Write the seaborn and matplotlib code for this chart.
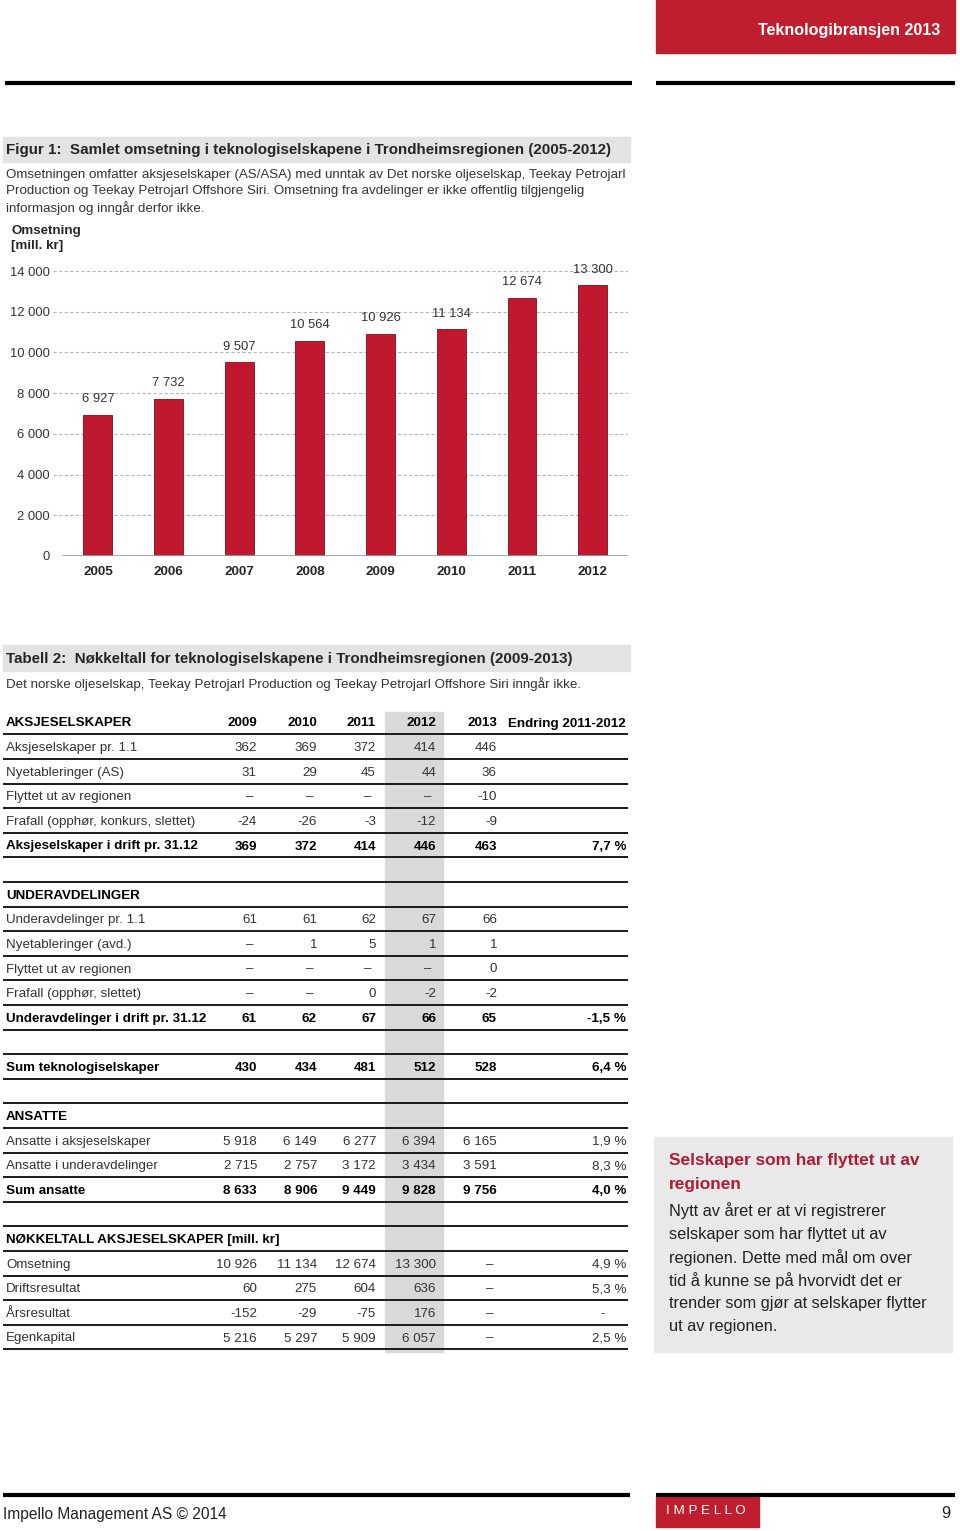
import numpy as np
import matplotlib
matplotlib.use("Agg")
import matplotlib.pyplot as plt
from matplotlib.patches import Rectangle
import seaborn as sns

# chart data (mill. kr)
years = ["2005", "2006", "2007", "2008", "2009", "2010", "2011", "2012"]
revenue = [6927, 7732, 9507, 10564, 10926, 11134, 12674, 13300]
yticks = [0, 2000, 4000, 6000, 8000, 10000, 12000, 14000]

# table data
tab_years = ["2009", "2010", "2011", "2012", "2013"]
aksje_labels = ["Aksjeselskaper pr. 1.1", "Nyetableringer (AS)",
                "Flyttet ut av regionen", "Frafall (opphør, konkurs, slettet)"]
aksje_vals = [[362, 369, 372, 414, 446],
              [31, 29, 45, 44, 36],
              [None, None, None, None, -10],
              [-24, -26, -3, -12, -9]]
aksje_total = [369, 372, 414, 446, 463]
aksje_change = "7,7 %"

avd_labels = ["Underavdelinger pr. 1.1", "Nyetableringer (avd.)",
              "Flyttet ut av regionen", "Frafall (opphør, slettet)"]
avd_vals = [[61, 61, 62, 67, 66],
            [None, 1, 5, 1, 1],
            [None, None, None, None, 0],
            [None, None, 0, -2, -2]]
avd_total = [61, 62, 67, 66, 65]
avd_change = "-1,5 %"

sum_selskaper = [430, 434, 481, 512, 528]
sum_change = "6,4 %"

ansatte_labels = ["Ansatte i aksjeselskaper", "Ansatte i underavdelinger"]
ansatte_vals = [[5918, 6149, 6277, 6394, 6165],
                [2715, 2757, 3172, 3434, 3591]]
ansatte_change = ["1,9 %", "8,3 %"]
ansatte_total = [8633, 8906, 9449, 9828, 9756]
ansatte_total_change = "4,0 %"

nokkel_labels = ["Omsetning", "Driftsresultat", "Årsresultat", "Egenkapital"]
nokkel_vals = [[10926, 11134, 12674, 13300, None],
               [60, 275, 604, 636, None],
               [-152, -29, -75, 176, None],
               [5216, 5297, 5909, 6057, None]]
nokkel_change = ["4,9 %", "5,3 %", "-", "2,5 %"]

RED = "#be1e2d"
BAR = "#c0192f"
FONT = ["Liberation Sans", "DejaVu Sans"]
FS = 9.6

sns.set_style("white")
plt.rcParams["font.family"] = FONT


def fmt(v):
    if v is None:
        return "–"
    return f"{v:,}".replace(",", " ")


fig = plt.figure(figsize=(9.6, 15.31), dpi=100)

# page layer in pixel coordinates
page = fig.add_axes([0, 0, 1, 1])
page.set_xlim(0, 960)
page.set_ylim(1531, 0)
page.axis("off")

# header
page.add_patch(Rectangle((656, 0), 299, 53, color=RED))
page.text(940, 31, "Teknologibransjen 2013", color="white", fontsize=11.6,
          fontweight="bold", ha="right", va="center")
page.plot([5, 632], [83, 83], color="black", lw=3, solid_capstyle="butt")
page.plot([656, 955], [83, 83], color="black", lw=3, solid_capstyle="butt")

# figure title
page.add_patch(Rectangle((3, 137), 627, 25, color="#e3e3e3"))
page.text(6, 150, "Figur 1:  Samlet omsetning i teknologiselskapene i Trondheimsregionen (2005-2012)",
          fontsize=10.9, fontweight="bold", va="center")
desc = ["Omsetningen omfatter aksjeselskaper (AS/ASA) med unntak av Det norske oljeselskap, Teekay Petrojarl",
        "Production og Teekay Petrojarl Offshore Siri. Omsetning fra avdelinger er ikke offentlig tilgjengelig",
        "informasjon og inngår derfor ikke."]
for i, line in enumerate(desc):
    page.text(6, 175 + 16.3 * i, line, fontsize=FS, color="#333333", va="center")
page.text(11, 231, "Omsetning", fontsize=FS, fontweight="bold", va="center")
page.text(11, 246, "[mill. kr]", fontsize=FS, fontweight="bold", va="center")

# bar chart
ax = fig.add_axes([53 / 960, 1 - 556 / 1531, 575 / 960, 285 / 1531])
sns.barplot(x=years, y=revenue, color=BAR, width=0.41, saturation=1,
            edgecolor="#7d0f1c", linewidth=0.6, ax=ax)
ax.set_xlim(-0.636, 7.497)
ax.set_ylim(0, 14000)
ax.set_yticks(yticks)
ax.set_yticklabels([fmt(v) for v in yticks])
ax.yaxis.grid(True, linestyle=(0, (3, 2)), color="#b5b5b5", lw=0.8)
ax.set_axisbelow(True)
for s in ax.spines.values():
    s.set_visible(False)
ax.axhline(0, xmin=0.018, xmax=1, color="#999999", lw=1.2)
ax.set_xticks(np.arange(-0.5, 8), minor=True)
ax.tick_params(axis="x", which="major", length=0, pad=7, labelsize=9.7)
ax.tick_params(axis="x", which="minor", length=4, color="#999999", direction="out")
ax.tick_params(axis="y", length=0, pad=2.5, labelsize=9.4, labelcolor="#333333")
for lab in ax.get_xticklabels():
    lab.set_fontweight("bold")
ax.set_xlabel("")
ax.set_ylabel("")
ax.bar_label(ax.containers[0], labels=[fmt(v) for v in revenue], padding=7,
             fontsize=9.4, color="#333333", clip_on=False)

# table
row0 = 723.5
pitch = 24.6
col_x = [257, 317, 376, 436, 497]
chg_x = 626

page.add_patch(Rectangle((3, 645), 627, 26, color="#e3e3e3"))
page.text(6, 659, "Tabell 2:  Nøkkeltall for teknologiselskapene i Trondheimsregionen (2009-2013)",
          fontsize=10.9, fontweight="bold", va="center")
page.text(6, 684.5, "Det norske oljeselskap, Teekay Petrojarl Production og Teekay Petrojarl Offshore Siri inngår ikke.",
          fontsize=FS, color="#333333", va="center")
page.add_patch(Rectangle((385, 712), 58, 640, color="#d9d9d9", zorder=0))

rows = []
rows.append(("AKSJESELSKAPER", tab_years, "Endring 2011-2012", True))
for lab, vals in zip(aksje_labels, aksje_vals):
    rows.append((lab, [fmt(v) for v in vals], "", False))
rows.append(("Aksjeselskaper i drift pr. 31.12", [fmt(v) for v in aksje_total], aksje_change, True))
rows.append(None)
rows.append(("UNDERAVDELINGER", [], "", True))
for lab, vals in zip(avd_labels, avd_vals):
    rows.append((lab, [fmt(v) for v in vals], "", False))
rows.append(("Underavdelinger i drift pr. 31.12", [fmt(v) for v in avd_total], avd_change, True))
rows.append(None)
rows.append(("Sum teknologiselskaper", [fmt(v) for v in sum_selskaper], sum_change, True))
rows.append(None)
rows.append(("ANSATTE", [], "", True))
for lab, vals, ch in zip(ansatte_labels, ansatte_vals, ansatte_change):
    rows.append((lab, [fmt(v) for v in vals], ch, False))
rows.append(("Sum ansatte", [fmt(v) for v in ansatte_total], ansatte_total_change, True))
rows.append(None)
rows.append(("NØKKELTALL AKSJESELSKAPER [mill. kr]", [], "", True))
for lab, vals, ch in zip(nokkel_labels, nokkel_vals, nokkel_change):
    rows.append((lab, [fmt(v) for v in vals], ch, False))

for i, row in enumerate(rows):
    y = row0 + pitch * i
    ly = 722 + pitch * i + 12.3
    page.plot([3, 628], [ly, ly], color="#1a1a1a", lw=1.4,
              solid_capstyle="butt", zorder=2)
    if row is None:
        continue
    lab, vals, ch, bold = row
    weight = "bold" if bold else "normal"
    color = "black" if bold else "#333333"
    page.text(6, y, lab, fontsize=FS, fontweight=weight, color=color, va="center", zorder=3)
    for x, v in zip(col_x, vals):
        xx = x - 4 if v == "–" else x
        page.text(xx, y, v, fontsize=FS, fontweight=weight, color=color,
                  ha="right", va="center", zorder=3)
    if ch == "-":
        page.text(603, y, ch, fontsize=FS, color=color, ha="center", va="center", zorder=3)
    elif ch:
        page.text(chg_x, y, ch, fontsize=FS, fontweight=weight, color=color,
                  ha="right", va="center", zorder=3)

# side box
page.add_patch(Rectangle((654, 1137), 298, 215, color="#e9e9e9"))
page.text(669, 1161, "Selskaper som har flyttet ut av", fontsize=12.4,
          fontweight="bold", color="#b01c34", va="center")
page.text(669, 1185, "regionen", fontsize=12.4, fontweight="bold", color="#b01c34", va="center")
box_lines = ["Nytt av året er at vi registrerer", "selskaper som har flyttet ut av",
             "regionen. Dette med mål om over", "tid å kunne se på hvorvidt det er",
             "trender som gjør at selskaper flytter", "ut av regionen."]
for i, line in enumerate(box_lines):
    page.text(669, 1211 + 23.2 * i, line, fontsize=11.8, color="#222222", va="center")

# footer
page.plot([3, 630], [1495, 1495], color="black", lw=3, solid_capstyle="butt")
page.plot([656, 955], [1495, 1495], color="black", lw=3, solid_capstyle="butt")
page.add_patch(Rectangle((656, 1497), 103, 30, color=RED))
page.text(706, 1511, "I M P E L L O", color="white", fontsize=9.6, ha="center", va="center")
page.text(3, 1514, "Impello Management AS © 2014", fontsize=11.2, color="#222222", va="center")
page.text(950, 1513, "9", fontsize=11.8, color="#222222", ha="right", va="center")

fig.savefig("out.png", dpi=100)
